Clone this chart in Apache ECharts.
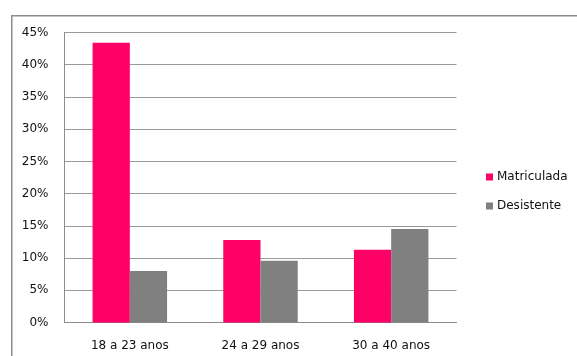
<!DOCTYPE html>
<html>
<head>
<meta charset="utf-8">
<script src="https://cdn.jsdelivr.net/npm/echarts@6/dist/echarts.min.js"></script>
<style>
  html, body { margin: 0; padding: 0; background: #fff; overflow: hidden; }
  #chart { width: 577px; height: 356px; }
</style>
</head>
<body>
<div id="chart"></div>
<script>
// Age groups and share of students per group
const categories = ['18 a 23 anos', '24 a 29 anos', '30 a 40 anos'];
const matriculada = [43.4, 12.8, 11.3];
const desistente = [8.0, 9.6, 14.5];
const seriesNames = ['Matriculada', 'Desistente'];
const yTicks = { min: 0, max: 45, interval: 5 };

const FONT = 'DejaVu Sans';
const chart = echarts.init(document.getElementById('chart'), null, { renderer: 'canvas' });

chart.setOption({
  animation: false,
  backgroundColor: '#ffffff',
  textStyle: { fontFamily: FONT },
  // frame: left and top edges only
  graphic: [
    { type: 'rect', shape: { x: 11, y: 15, width: 1.5, height: 341 },
      style: { fill: '#8c8c8c' } },
    { type: 'rect', shape: { x: 11, y: 15, width: 566, height: 1.5 },
      style: { fill: '#8c8c8c' } }
  ],
  grid: { left: 64.5, top: 32.5, right: 120.5, bottom: 33.5 },
  legend: {
    orient: 'vertical',
    left: 481,
    top: 166,
    itemWidth: 7,
    itemHeight: 7,
    itemGap: 17,
    icon: 'rect',
    textStyle: { fontFamily: FONT, fontSize: 12, color: '#111111', padding: [0, 0, 0, -1] },
    data: seriesNames
  },
  xAxis: {
    type: 'category',
    data: categories,
    axisLine: { lineStyle: { color: '#8c8c8c', width: 1 } },
    axisTick: { show: false },
    axisLabel: { fontFamily: FONT, fontSize: 12, color: '#111111', margin: 17 }
  },
  yAxis: {
    type: 'value',
    min: yTicks.min,
    max: yTicks.max,
    interval: yTicks.interval,
    axisLine: { show: true, lineStyle: { color: '#8c8c8c', width: 1 } },
    axisTick: { show: false },
    splitLine: { lineStyle: { color: '#9a9a9a', width: 1 } },
    axisLabel: { fontFamily: FONT, fontSize: 12, color: '#111111', margin: 16, formatter: '{value}%' }
  },
  series: [
    {
      name: seriesNames[0], type: 'bar', data: matriculada,
      itemStyle: { color: '#ff0066' },
      barGap: '0%', barCategoryGap: '43%'
    },
    {
      name: seriesNames[1], type: 'bar', data: desistente,
      itemStyle: { color: '#808080' },
      barGap: '0%', barCategoryGap: '43%'
    }
  ]
});
</script>
</body>
</html>
